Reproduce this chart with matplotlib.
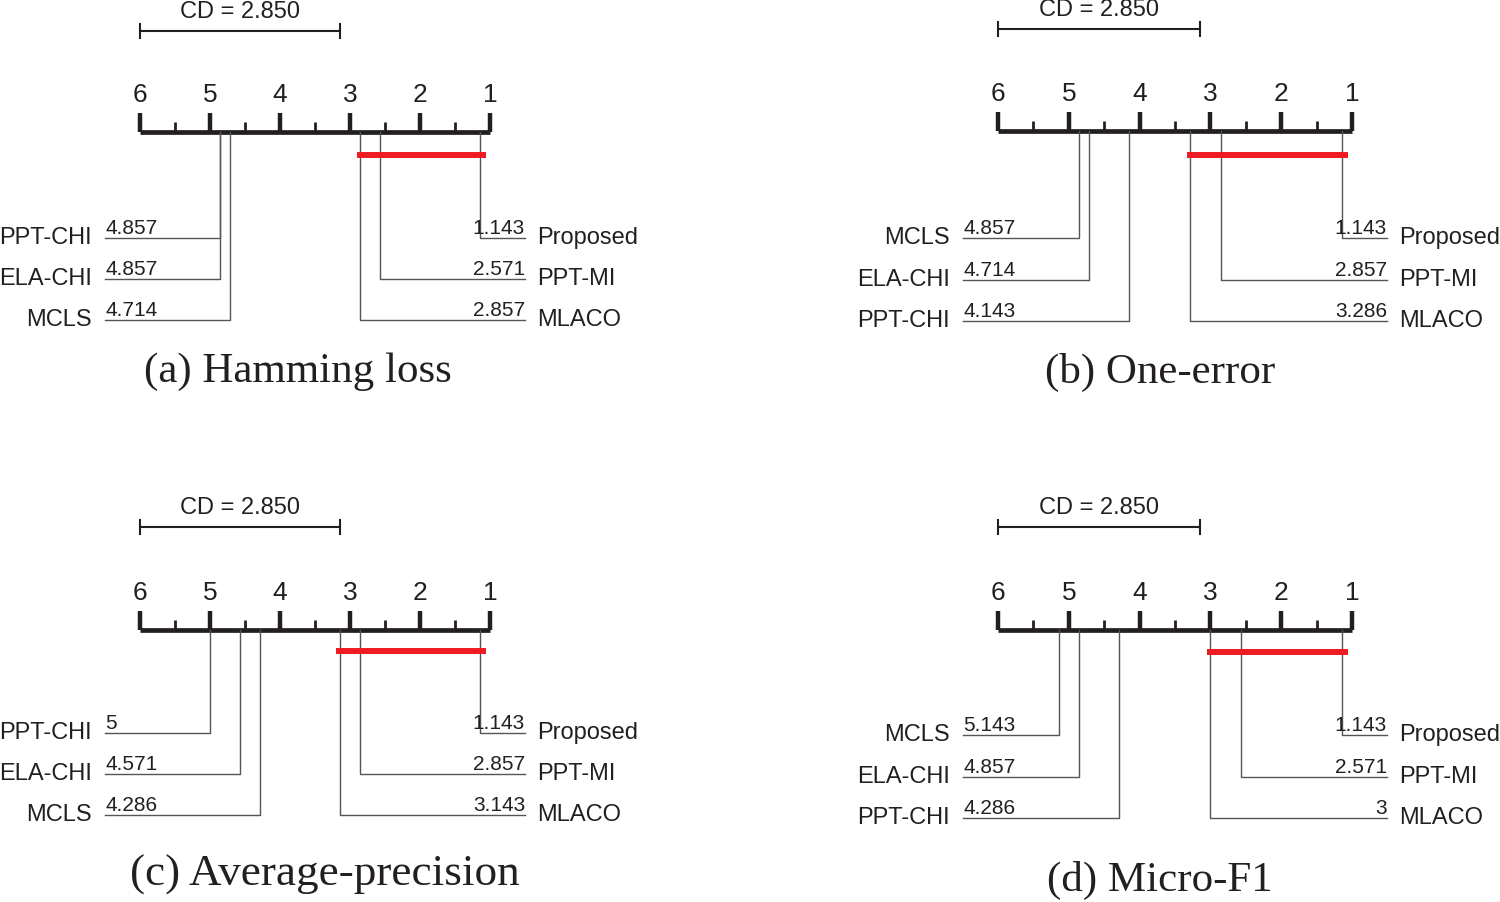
import matplotlib
matplotlib.use("Agg")
import matplotlib.pyplot as plt

# average ranks
captions = ["(a) Hamming loss", "(b) One-error", "(c) Average-precision", "(d) Micro-F1"]
cd_value = 2.850

left_names_a = ["PPT-CHI", "ELA-CHI", "MCLS"]
left_ranks_a = [4.857, 4.857, 4.714]
left_names_b = ["MCLS", "ELA-CHI", "PPT-CHI"]
left_ranks_b = [4.857, 4.714, 4.143]
left_names_c = ["PPT-CHI", "ELA-CHI", "MCLS"]
left_ranks_c = [5, 4.571, 4.286]
left_names_d = ["MCLS", "ELA-CHI", "PPT-CHI"]
left_ranks_d = [5.143, 4.857, 4.286]

right_names = ["Proposed", "PPT-MI", "MLACO"]
right_ranks_a = [1.143, 2.571, 2.857]
right_ranks_b = [1.143, 2.857, 3.286]
right_ranks_c = [1.143, 2.857, 3.143]
right_ranks_d = [1.143, 2.571, 3]

# group that is not significantly different (red bar)
clique_a = (1.143, 2.857)
clique_b = (1.143, 3.286)
clique_c = (1.143, 3.143)
clique_d = (1.143, 3.0)

sans = ["Liberation Sans", "DejaVu Sans"]
serif = ["Liberation Serif", "DejaVu Serif"]

W, H = 1500, 902
fig = plt.figure(figsize=(15, 9.02), dpi=100)

# layout per panel in pixels: axis left/right, axis y, CD bar y, red bar y, row ys, caption pos
panels = [
    dict(x0=140, x1=490, ay=132, cdy=31, redy=155, rows=[238, 279, 320], cap=(298, 370), capfs=31,
         ln=left_names_a, lr=left_ranks_a, rr=right_ranks_a, cl=clique_a),
    dict(x0=998, x1=1352, ay=131, cdy=29, redy=155, rows=[238, 280, 321], cap=(1160, 370), capfs=31,
         ln=left_names_b, lr=left_ranks_b, rr=right_ranks_b, cl=clique_b),
    dict(x0=140, x1=490, ay=630, cdy=527, redy=651, rows=[733, 774, 815], cap=(325, 873), capfs=32.5,
         ln=left_names_c, lr=left_ranks_c, rr=right_ranks_c, cl=clique_c),
    dict(x0=998, x1=1352, ay=630, cdy=527, redy=652, rows=[735, 777, 818], cap=(1160, 878), capfs=31,
         ln=left_names_d, lr=left_ranks_d, rr=right_ranks_d, cl=clique_d),
]

for p, cap in zip(panels, captions):
    ax = fig.add_axes([p["x0"] / W, 0, (p["x1"] - p["x0"]) / W, 1])
    ax.set_xlim(6, 1)
    ax.set_ylim(H, 0)
    ax.axis("off")
    ay = p["ay"]
    ppr = (p["x1"] - p["x0"]) / 5.0  # pixels per rank
    dx = lambda px: px / ppr

    # main axis and ticks
    ax.plot([6, 1], [ay, ay], color="#231f20", lw=3.4, solid_capstyle="butt", clip_on=False)
    for r in range(1, 7):
        ax.plot([r, r], [ay, ay - 19], color="#231f20", lw=3.2, solid_capstyle="butt", clip_on=False)
        ax.text(r, ay - 37, str(r), ha="center", va="center", fontsize=19, family=sans, color="#231f20")
    for r in [1.5, 2.5, 3.5, 4.5, 5.5]:
        ax.plot([r, r], [ay, ay - 10], color="#231f20", lw=2.0, solid_capstyle="butt", clip_on=False)

    # CD bar
    cdy = p["cdy"]
    ax.plot([6, 6 - cd_value], [cdy, cdy], color="#231f20", lw=1.5, clip_on=False)
    for r in [6, 6 - cd_value]:
        ax.plot([r, r], [cdy - 7, cdy + 7], color="#231f20", lw=1.5, clip_on=False)
    ax.text(6 - cd_value / 2, cdy - 19, "CD = %.3f" % cd_value, ha="center", va="center",
            fontsize=17, family=sans, color="#231f20")

    # left-side methods
    for name, r, y in zip(p["ln"], p["lr"], p["rows"]):
        ax.plot([r, r, 6 + dx(35)], [ay, y, y], color="#555555", lw=1.0, clip_on=False)
        ax.text(6 + dx(35), y - 4, f"{r:g}", ha="left", va="baseline", fontsize=15,
                family=sans, color="#231f20")
        ax.text(6 + dx(48), y + 6, name, ha="right", va="baseline", fontsize=17,
                family=sans, color="#231f20")

    # right-side methods
    for name, r, y in zip(right_names, p["rr"], p["rows"]):
        ax.plot([r, r, 1 - dx(35)], [ay, y, y], color="#555555", lw=1.0, clip_on=False)
        ax.text(1 - dx(35), y - 4, f"{r:g}", ha="right", va="baseline", fontsize=15,
                family=sans, color="#231f20")
        ax.text(1 - dx(47), y + 6, name, ha="left", va="baseline", fontsize=17,
                family=sans, color="#231f20")

    # clique bar
    lo, hi = p["cl"]
    ax.plot([hi + 0.05, lo - 0.09], [p["redy"], p["redy"]], color="#ed1c24", lw=4.3,
            solid_capstyle="butt", clip_on=False)

    fig.text(p["cap"][0] / W, 1 - (p["cap"][1] + 2) / H, cap,
             ha="center", va="center", fontsize=p["capfs"], family=serif, color="#231f20")

fig.savefig("out.png", dpi=100)
